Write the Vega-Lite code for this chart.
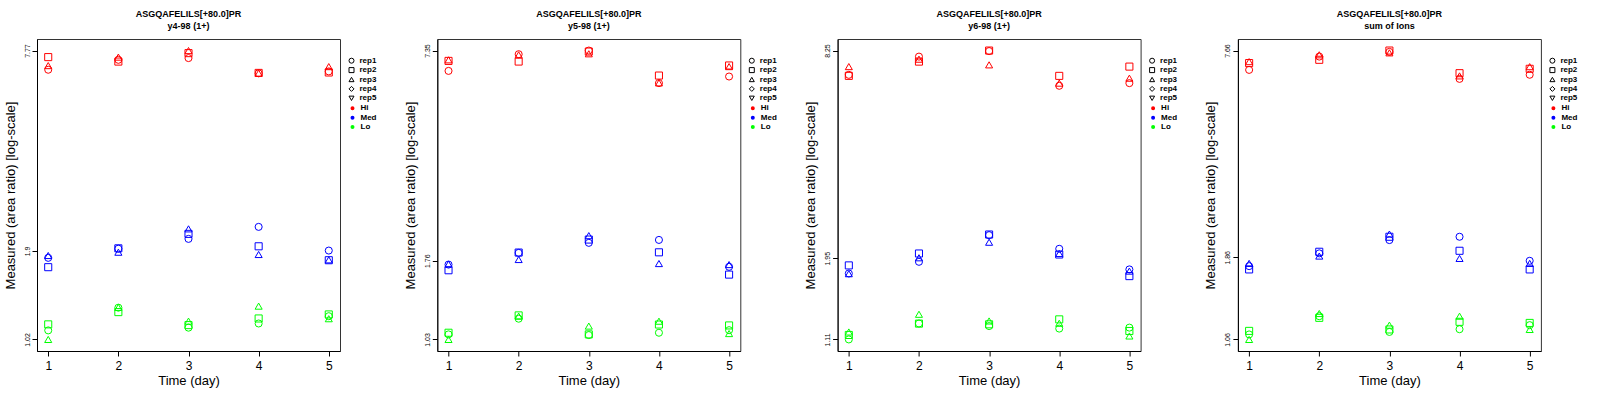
{
  "$schema": "https://vega.github.io/schema/vega-lite/v6.json",
  "padding": {"left": 3, "top": 9, "right": 0, "bottom": 0},
  "spacing": 26.3,
  "config": {
    "font": "Liberation Sans",
    "view": {"stroke": "#333333", "strokeWidth": 1},
    "axis": {
      "grid": false,
      "domainColor": "black",
      "tickColor": "black",
      "tickSize": 5,
      "labelColor": "black",
      "titleColor": "black",
      "titleFontWeight": "normal",
      "titleFontSize": 13,
      "labelFontSize": 12
    },
    "axisY": {"labelAngle": -90, "labelFontSize": 7, "labelAlign": "center", "labelBaseline": "bottom", "labelPadding": 2, "titlePadding": 6},
    "axisX": {"labelPadding": 4, "titlePadding": 3},
    "title": {"fontSize": 9, "fontWeight": "bold", "frame": "group", "anchor": "middle", "offset": 8, "lineHeight": 12, "color": "black"},
    "legend": {"padding": 0, "labelFontSize": 8, "labelFontWeight": "bold", "labelColor": "black", "rowPadding": 1.4, "clipHeight": 8, "labelOffset": 4, "title": null}
  },
  "data": {"values": [
    {"p":"y4","d":1,"g":"Hi","r":"rep1","v":6.79},{"p":"y4","d":1,"g":"Hi","r":"rep2","v":7.42},{"p":"y4","d":1,"g":"Hi","r":"rep3","v":6.99},
    {"p":"y4","d":2,"g":"Hi","r":"rep1","v":7.28},{"p":"y4","d":2,"g":"Hi","r":"rep2","v":7.19},{"p":"y4","d":2,"g":"Hi","r":"rep3","v":7.42},
    {"p":"y4","d":3,"g":"Hi","r":"rep1","v":7.37},{"p":"y4","d":3,"g":"Hi","r":"rep2","v":7.63},{"p":"y4","d":3,"g":"Hi","r":"rep3","v":7.77},
    {"p":"y4","d":4,"g":"Hi","r":"rep1","v":6.62},{"p":"y4","d":4,"g":"Hi","r":"rep2","v":6.64},{"p":"y4","d":4,"g":"Hi","r":"rep3","v":6.63},
    {"p":"y4","d":5,"g":"Hi","r":"rep1","v":6.71},{"p":"y4","d":5,"g":"Hi","r":"rep2","v":6.66},{"p":"y4","d":5,"g":"Hi","r":"rep3","v":6.94},
    {"p":"y4","d":1,"g":"Med","r":"rep1","v":1.81},{"p":"y4","d":1,"g":"Med","r":"rep2","v":1.695},{"p":"y4","d":1,"g":"Med","r":"rep3","v":1.84},
    {"p":"y4","d":2,"g":"Med","r":"rep1","v":1.93},{"p":"y4","d":2,"g":"Med","r":"rep2","v":1.935},{"p":"y4","d":2,"g":"Med","r":"rep3","v":1.883},
    {"p":"y4","d":3,"g":"Med","r":"rep1","v":2.068},{"p":"y4","d":3,"g":"Med","r":"rep2","v":2.142},{"p":"y4","d":3,"g":"Med","r":"rep3","v":2.219},
    {"p":"y4","d":4,"g":"Med","r":"rep1","v":2.25},{"p":"y4","d":4,"g":"Med","r":"rep2","v":1.963},{"p":"y4","d":4,"g":"Med","r":"rep3","v":1.853},
    {"p":"y4","d":5,"g":"Med","r":"rep1","v":1.905},{"p":"y4","d":5,"g":"Med","r":"rep2","v":1.78},{"p":"y4","d":5,"g":"Med","r":"rep3","v":1.785},
    {"p":"y4","d":1,"g":"Lo","r":"rep1","v":1.087},{"p":"y4","d":1,"g":"Lo","r":"rep2","v":1.134},{"p":"y4","d":1,"g":"Lo","r":"rep3","v":1.02},
    {"p":"y4","d":2,"g":"Lo","r":"rep1","v":1.275},{"p":"y4","d":2,"g":"Lo","r":"rep2","v":1.236},{"p":"y4","d":2,"g":"Lo","r":"rep3","v":1.278},
    {"p":"y4","d":3,"g":"Lo","r":"rep1","v":1.108},{"p":"y4","d":3,"g":"Lo","r":"rep2","v":1.128},{"p":"y4","d":3,"g":"Lo","r":"rep3","v":1.16},
    {"p":"y4","d":4,"g":"Lo","r":"rep1","v":1.141},{"p":"y4","d":4,"g":"Lo","r":"rep2","v":1.182},{"p":"y4","d":4,"g":"Lo","r":"rep3","v":1.289},
    {"p":"y4","d":5,"g":"Lo","r":"rep1","v":1.201},{"p":"y4","d":5,"g":"Lo","r":"rep2","v":1.216},{"p":"y4","d":5,"g":"Lo","r":"rep3","v":1.18},

    {"p":"y5","d":1,"g":"Hi","r":"rep1","v":6.4},{"p":"y5","d":1,"g":"Hi","r":"rep2","v":6.85},{"p":"y5","d":1,"g":"Hi","r":"rep3","v":6.9},
    {"p":"y5","d":2,"g":"Hi","r":"rep1","v":7.17},{"p":"y5","d":2,"g":"Hi","r":"rep2","v":6.82},{"p":"y5","d":2,"g":"Hi","r":"rep3","v":7.14},
    {"p":"y5","d":3,"g":"Hi","r":"rep1","v":7.35},{"p":"y5","d":3,"g":"Hi","r":"rep2","v":7.3},{"p":"y5","d":3,"g":"Hi","r":"rep3","v":7.19},
    {"p":"y5","d":4,"g":"Hi","r":"rep1","v":5.89},{"p":"y5","d":4,"g":"Hi","r":"rep2","v":6.2},{"p":"y5","d":4,"g":"Hi","r":"rep3","v":5.9},
    {"p":"y5","d":5,"g":"Hi","r":"rep1","v":6.16},{"p":"y5","d":5,"g":"Hi","r":"rep2","v":6.64},{"p":"y5","d":5,"g":"Hi","r":"rep3","v":6.59},
    {"p":"y5","d":1,"g":"Med","r":"rep1","v":1.714},{"p":"y5","d":1,"g":"Med","r":"rep2","v":1.649},{"p":"y5","d":1,"g":"Med","r":"rep3","v":1.72},
    {"p":"y5","d":2,"g":"Med","r":"rep1","v":1.856},{"p":"y5","d":2,"g":"Med","r":"rep2","v":1.86},{"p":"y5","d":2,"g":"Med","r":"rep3","v":1.774},
    {"p":"y5","d":3,"g":"Med","r":"rep1","v":1.987},{"p":"y5","d":3,"g":"Med","r":"rep2","v":2.032},{"p":"y5","d":3,"g":"Med","r":"rep3","v":2.087},
    {"p":"y5","d":4,"g":"Med","r":"rep1","v":2.027},{"p":"y5","d":4,"g":"Med","r":"rep2","v":1.863},{"p":"y5","d":4,"g":"Med","r":"rep3","v":1.726},
    {"p":"y5","d":5,"g":"Med","r":"rep1","v":1.688},{"p":"y5","d":5,"g":"Med","r":"rep2","v":1.601},{"p":"y5","d":5,"g":"Med","r":"rep3","v":1.714},
    {"p":"y5","d":1,"g":"Lo","r":"rep1","v":1.066},{"p":"y5","d":1,"g":"Lo","r":"rep2","v":1.078},{"p":"y5","d":1,"g":"Lo","r":"rep3","v":1.03},
    {"p":"y5","d":2,"g":"Lo","r":"rep1","v":1.186},{"p":"y5","d":2,"g":"Lo","r":"rep2","v":1.213},{"p":"y5","d":2,"g":"Lo","r":"rep3","v":1.207},
    {"p":"y5","d":3,"g":"Lo","r":"rep1","v":1.061},{"p":"y5","d":3,"g":"Lo","r":"rep2","v":1.066},{"p":"y5","d":3,"g":"Lo","r":"rep3","v":1.128},
    {"p":"y5","d":4,"g":"Lo","r":"rep1","v":1.078},{"p":"y5","d":4,"g":"Lo","r":"rep2","v":1.14},{"p":"y5","d":4,"g":"Lo","r":"rep3","v":1.166},
    {"p":"y5","d":5,"g":"Lo","r":"rep1","v":1.097},{"p":"y5","d":5,"g":"Lo","r":"rep2","v":1.133},{"p":"y5","d":5,"g":"Lo","r":"rep3","v":1.072},

    {"p":"y6","d":1,"g":"Hi","r":"rep1","v":6.97},{"p":"y6","d":1,"g":"Hi","r":"rep2","v":6.92},{"p":"y6","d":1,"g":"Hi","r":"rep3","v":7.38},
    {"p":"y6","d":2,"g":"Hi","r":"rep1","v":7.91},{"p":"y6","d":2,"g":"Hi","r":"rep2","v":7.64},{"p":"y6","d":2,"g":"Hi","r":"rep3","v":7.77},
    {"p":"y6","d":3,"g":"Hi","r":"rep1","v":8.22},{"p":"y6","d":3,"g":"Hi","r":"rep2","v":8.25},{"p":"y6","d":3,"g":"Hi","r":"rep3","v":7.47},
    {"p":"y6","d":4,"g":"Hi","r":"rep1","v":6.46},{"p":"y6","d":4,"g":"Hi","r":"rep2","v":6.92},{"p":"y6","d":4,"g":"Hi","r":"rep3","v":6.58},
    {"p":"y6","d":5,"g":"Hi","r":"rep1","v":6.58},{"p":"y6","d":5,"g":"Hi","r":"rep2","v":7.38},{"p":"y6","d":5,"g":"Hi","r":"rep3","v":6.81},
    {"p":"y6","d":1,"g":"Med","r":"rep1","v":1.755},{"p":"y6","d":1,"g":"Med","r":"rep2","v":1.856},{"p":"y6","d":1,"g":"Med","r":"rep3","v":1.752},
    {"p":"y6","d":2,"g":"Med","r":"rep1","v":1.903},{"p":"y6","d":2,"g":"Med","r":"rep2","v":2.016},{"p":"y6","d":2,"g":"Med","r":"rep3","v":1.957},
    {"p":"y6","d":3,"g":"Med","r":"rep1","v":2.29},{"p":"y6","d":3,"g":"Med","r":"rep2","v":2.3},{"p":"y6","d":3,"g":"Med","r":"rep3","v":2.18},
    {"p":"y6","d":4,"g":"Med","r":"rep1","v":2.083},{"p":"y6","d":4,"g":"Med","r":"rep2","v":2.002},{"p":"y6","d":4,"g":"Med","r":"rep3","v":2.016},
    {"p":"y6","d":5,"g":"Med","r":"rep1","v":1.805},{"p":"y6","d":5,"g":"Med","r":"rep2","v":1.723},{"p":"y6","d":5,"g":"Med","r":"rep3","v":1.784},
    {"p":"y6","d":1,"g":"Lo","r":"rep1","v":1.11},{"p":"y6","d":1,"g":"Lo","r":"rep2","v":1.145},{"p":"y6","d":1,"g":"Lo","r":"rep3","v":1.169},
    {"p":"y6","d":2,"g":"Lo","r":"rep1","v":1.24},{"p":"y6","d":2,"g":"Lo","r":"rep2","v":1.239},{"p":"y6","d":2,"g":"Lo","r":"rep3","v":1.322},
    {"p":"y6","d":3,"g":"Lo","r":"rep1","v":1.218},{"p":"y6","d":3,"g":"Lo","r":"rep2","v":1.233},{"p":"y6","d":3,"g":"Lo","r":"rep3","v":1.262},
    {"p":"y6","d":4,"g":"Lo","r":"rep1","v":1.197},{"p":"y6","d":4,"g":"Lo","r":"rep2","v":1.276},{"p":"y6","d":4,"g":"Lo","r":"rep3","v":1.242},
    {"p":"y6","d":5,"g":"Lo","r":"rep1","v":1.205},{"p":"y6","d":5,"g":"Lo","r":"rep2","v":1.177},{"p":"y6","d":5,"g":"Lo","r":"rep3","v":1.137},

    {"p":"sum","d":1,"g":"Hi","r":"rep1","v":6.71},{"p":"sum","d":1,"g":"Hi","r":"rep2","v":7.03},{"p":"sum","d":1,"g":"Hi","r":"rep3","v":7.1},
    {"p":"sum","d":2,"g":"Hi","r":"rep1","v":7.35},{"p":"sum","d":2,"g":"Hi","r":"rep2","v":7.19},{"p":"sum","d":2,"g":"Hi","r":"rep3","v":7.44},
    {"p":"sum","d":3,"g":"Hi","r":"rep1","v":7.59},{"p":"sum","d":3,"g":"Hi","r":"rep2","v":7.66},{"p":"sum","d":3,"g":"Hi","r":"rep3","v":7.54},
    {"p":"sum","d":4,"g":"Hi","r":"rep1","v":6.31},{"p":"sum","d":4,"g":"Hi","r":"rep2","v":6.56},{"p":"sum","d":4,"g":"Hi","r":"rep3","v":6.44},
    {"p":"sum","d":5,"g":"Hi","r":"rep1","v":6.49},{"p":"sum","d":5,"g":"Hi","r":"rep2","v":6.76},{"p":"sum","d":5,"g":"Hi","r":"rep3","v":6.86},
    {"p":"sum","d":1,"g":"Med","r":"rep1","v":1.751},{"p":"sum","d":1,"g":"Med","r":"rep2","v":1.712},{"p":"sum","d":1,"g":"Med","r":"rep3","v":1.784},
    {"p":"sum","d":2,"g":"Med","r":"rep1","v":1.911},{"p":"sum","d":2,"g":"Med","r":"rep2","v":1.932},{"p":"sum","d":2,"g":"Med","r":"rep3","v":1.876},
    {"p":"sum","d":3,"g":"Med","r":"rep1","v":2.093},{"p":"sum","d":3,"g":"Med","r":"rep2","v":2.141},{"p":"sum","d":3,"g":"Med","r":"rep3","v":2.181},
    {"p":"sum","d":4,"g":"Med","r":"rep1","v":2.141},{"p":"sum","d":4,"g":"Med","r":"rep2","v":1.945},{"p":"sum","d":4,"g":"Med","r":"rep3","v":1.846},
    {"p":"sum","d":5,"g":"Med","r":"rep1","v":1.816},{"p":"sum","d":5,"g":"Med","r":"rep2","v":1.712},{"p":"sum","d":5,"g":"Med","r":"rep3","v":1.784},
    {"p":"sum","d":1,"g":"Lo","r":"rep1","v":1.097},{"p":"sum","d":1,"g":"Lo","r":"rep2","v":1.124},{"p":"sum","d":1,"g":"Lo","r":"rep3","v":1.06},
    {"p":"sum","d":2,"g":"Lo","r":"rep1","v":1.243},{"p":"sum","d":2,"g":"Lo","r":"rep2","v":1.229},{"p":"sum","d":2,"g":"Lo","r":"rep3","v":1.266},
    {"p":"sum","d":3,"g":"Lo","r":"rep1","v":1.116},{"p":"sum","d":3,"g":"Lo","r":"rep2","v":1.135},{"p":"sum","d":3,"g":"Lo","r":"rep3","v":1.169},
    {"p":"sum","d":4,"g":"Lo","r":"rep1","v":1.137},{"p":"sum","d":4,"g":"Lo","r":"rep2","v":1.196},{"p":"sum","d":4,"g":"Lo","r":"rep3","v":1.243},
    {"p":"sum","d":5,"g":"Lo","r":"rep1","v":1.169},{"p":"sum","d":5,"g":"Lo","r":"rep2","v":1.187},{"p":"sum","d":5,"g":"Lo","r":"rep3","v":1.135}
  ]},
  "hconcat": [
    {
      "title": {"text": ["ASGQAFELILS[+80.0]PR", "y4-98 (1+)"]},
      "width": 303, "height": 312,
      "transform": [{"filter": "datum.p == 'y4'"}],
      "mark": {"type": "point", "filled": false, "size": 50, "strokeWidth": 1, "opacity": 1},
      "encoding": {
        "x": {"field": "d", "type": "quantitative", "scale": {"domain": [0.84, 5.16], "nice": false, "zero": false}, "axis": {"values": [1, 2, 3, 4, 5], "title": "Time (day)"}},
        "y": {"field": "v", "type": "quantitative", "scale": {"type": "log", "domain": [0.9404, 8.427], "nice": false}, "axis": {"values": [1.02, 1.9, 7.77], "labelExpr": "'' + datum.value", "title": "Measured (area ratio) [log-scale]"}},
        "color": {"field": "g", "type": "nominal", "scale": {"domain": ["Hi", "Med", "Lo"], "range": ["#ff0000", "#0000ff", "#00ff00"]}, "legend": {"orient": "none", "legendX": 311.5, "legendY": 65.3, "symbolType": "circle", "symbolSize": 4, "symbolStrokeWidth": 2}},
        "shape": {"field": "r", "type": "nominal", "scale": {"domain": ["rep1", "rep2", "rep3", "rep4", "rep5"], "range": ["circle", "square", "triangle-up", "diamond", "triangle-down"]}, "legend": {"orient": "none", "legendX": 310.5, "legendY": 17.7, "symbolSize": 25, "symbolStrokeColor": "black", "symbolStrokeWidth": 1}}
      }
    },
    {
      "title": {"text": ["ASGQAFELILS[+80.0]PR", "y5-98 (1+)"]},
      "width": 303, "height": 312,
      "transform": [{"filter": "datum.p == 'y5'"}],
      "mark": {"type": "point", "filled": false, "size": 50, "strokeWidth": 1, "opacity": 1},
      "encoding": {
        "x": {"field": "d", "type": "quantitative", "scale": {"domain": [0.84, 5.16], "nice": false, "zero": false}, "axis": {"values": [1, 2, 3, 4, 5], "title": "Time (day)"}},
        "y": {"field": "v", "type": "quantitative", "scale": {"type": "log", "domain": [0.9521, 7.951], "nice": false}, "axis": {"values": [1.03, 1.76, 7.35], "labelExpr": "'' + datum.value", "title": "Measured (area ratio) [log-scale]"}},
        "color": {"field": "g", "type": "nominal", "scale": {"domain": ["Hi", "Med", "Lo"], "range": ["#ff0000", "#0000ff", "#00ff00"]}, "legend": {"orient": "none", "legendX": 311.5, "legendY": 65.3, "symbolType": "circle", "symbolSize": 4, "symbolStrokeWidth": 2}},
        "shape": {"field": "r", "type": "nominal", "scale": {"domain": ["rep1", "rep2", "rep3", "rep4", "rep5"], "range": ["circle", "square", "triangle-up", "diamond", "triangle-down"]}, "legend": {"orient": "none", "legendX": 310.5, "legendY": 17.7, "symbolSize": 25, "symbolStrokeColor": "black", "symbolStrokeWidth": 1}}
      }
    },
    {
      "title": {"text": ["ASGQAFELILS[+80.0]PR", "y6-98 (1+)"]},
      "width": 303, "height": 312,
      "transform": [{"filter": "datum.p == 'y6'"}],
      "mark": {"type": "point", "filled": false, "size": 50, "strokeWidth": 1, "opacity": 1},
      "encoding": {
        "x": {"field": "d", "type": "quantitative", "scale": {"domain": [0.84, 5.16], "nice": false, "zero": false}, "axis": {"values": [1, 2, 3, 4, 5], "title": "Time (day)"}},
        "y": {"field": "v", "type": "quantitative", "scale": {"type": "log", "domain": [1.0244, 8.939], "nice": false}, "axis": {"values": [1.11, 1.95, 8.25], "labelExpr": "'' + datum.value", "title": "Measured (area ratio) [log-scale]"}},
        "color": {"field": "g", "type": "nominal", "scale": {"domain": ["Hi", "Med", "Lo"], "range": ["#ff0000", "#0000ff", "#00ff00"]}, "legend": {"orient": "none", "legendX": 311.5, "legendY": 65.3, "symbolType": "circle", "symbolSize": 4, "symbolStrokeWidth": 2}},
        "shape": {"field": "r", "type": "nominal", "scale": {"domain": ["rep1", "rep2", "rep3", "rep4", "rep5"], "range": ["circle", "square", "triangle-up", "diamond", "triangle-down"]}, "legend": {"orient": "none", "legendX": 310.5, "legendY": 17.7, "symbolSize": 25, "symbolStrokeColor": "black", "symbolStrokeWidth": 1}}
      }
    },
    {
      "title": {"text": ["ASGQAFELILS[+80.0]PR", "sum of Ions"]},
      "width": 303, "height": 312,
      "transform": [{"filter": "datum.p == 'sum'"}],
      "mark": {"type": "point", "filled": false, "size": 50, "strokeWidth": 1, "opacity": 1},
      "encoding": {
        "x": {"field": "d", "type": "quantitative", "scale": {"domain": [0.84, 5.16], "nice": false, "zero": false}, "axis": {"values": [1, 2, 3, 4, 5], "title": "Time (day)"}},
        "y": {"field": "v", "type": "quantitative", "scale": {"type": "log", "domain": [0.9794, 8.29], "nice": false}, "axis": {"values": [1.06, 1.86, 7.66], "labelExpr": "'' + datum.value", "title": "Measured (area ratio) [log-scale]"}},
        "color": {"field": "g", "type": "nominal", "scale": {"domain": ["Hi", "Med", "Lo"], "range": ["#ff0000", "#0000ff", "#00ff00"]}, "legend": {"orient": "none", "legendX": 311.5, "legendY": 65.3, "symbolType": "circle", "symbolSize": 4, "symbolStrokeWidth": 2}},
        "shape": {"field": "r", "type": "nominal", "scale": {"domain": ["rep1", "rep2", "rep3", "rep4", "rep5"], "range": ["circle", "square", "triangle-up", "diamond", "triangle-down"]}, "legend": {"orient": "none", "legendX": 310.5, "legendY": 17.7, "symbolSize": 25, "symbolStrokeColor": "black", "symbolStrokeWidth": 1}}
      }
    }
  ],
  "resolve": {
    "scale": {"y": "independent", "color": "independent", "shape": "independent"},
    "legend": {"color": "independent", "shape": "independent"}
  }
}
